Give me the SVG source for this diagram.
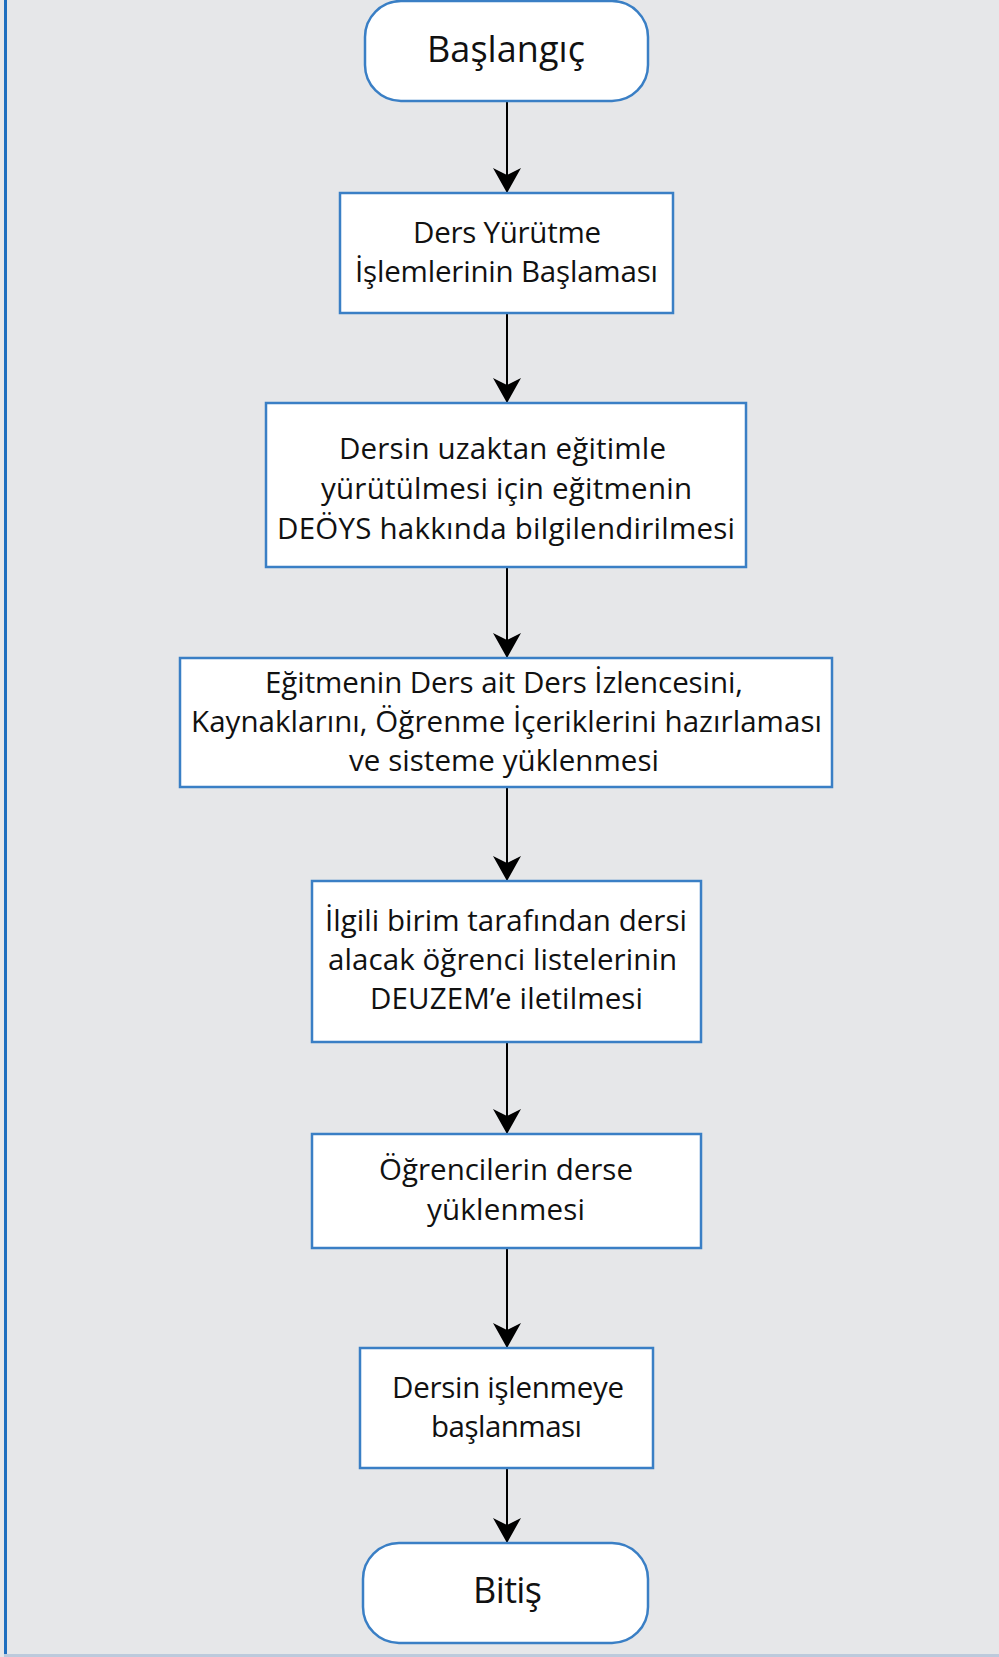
<svg xmlns="http://www.w3.org/2000/svg" width="999" height="1657" viewBox="0 0 999 1657">
<style>
.bg{fill:#e6e7e9}
.box{fill:#ffffff;stroke:#3a7fc5;stroke-width:2.5}
.t{font-family:"Open Sans","Noto Sans","Liberation Sans",sans-serif;font-size:29.5px;fill:#111111;text-anchor:middle}
.tb{font-family:"Open Sans","Noto Sans","Liberation Sans",sans-serif;font-size:36px;fill:#111111;text-anchor:middle}
.conn{stroke:#000000;stroke-width:2;fill:none;marker-end:url(#arr)}
</style>
<defs>
<marker id="arr" markerUnits="userSpaceOnUse" viewBox="0 0 25 28" refX="25" refY="14" markerWidth="25" markerHeight="28" orient="auto">
<path d="M0,0 L25,14 L0,28 L7,14 Z" fill="#000000"/>
</marker>
</defs>
<rect class="bg" x="0" y="0" width="999" height="1657"/>
<rect x="4" y="0" width="3" height="1657" fill="#1f6fbf"/>
<rect x="4" y="1654" width="995" height="3" fill="#bccadc"/>

<g id="connectors">
<line class="conn" x1="507" y1="101" x2="507" y2="193"/>
<line class="conn" x1="507" y1="313" x2="507" y2="403"/>
<line class="conn" x1="507" y1="567" x2="507" y2="658"/>
<line class="conn" x1="507" y1="787" x2="507" y2="881"/>
<line class="conn" x1="507" y1="1042" x2="507" y2="1134"/>
<line class="conn" x1="507" y1="1248" x2="507" y2="1348"/>
<line class="conn" x1="507" y1="1468" x2="507" y2="1543"/>
</g>

<g id="start">
<rect class="box" x="365" y="1" width="283" height="100" rx="36" ry="36"/>
<text class="tb" x="506" y="62" textLength="158">Başlangıç</text>
</g>

<g id="n1">
<rect class="box" x="340" y="193" width="333" height="120"/>
<text class="t" x="507" y="243" textLength="188">Ders Yürütme</text>
<text class="t" x="506.5" y="282" textLength="303">İşlemlerinin Başlaması</text>
</g>

<g id="n2">
<rect class="box" x="266" y="403" width="480" height="164"/>
<text class="t" x="502.5" y="459" textLength="327">Dersin uzaktan eğitimle</text>
<text class="t" x="506.5" y="499" textLength="371">yürütülmesi için eğitmenin</text>
<text class="t" x="506" y="539" textLength="458">DEÖYS hakkında bilgilendirilmesi</text>
</g>

<g id="n3">
<rect class="box" x="180" y="658" width="652" height="129"/>
<text class="t" x="504" y="693" textLength="478">Eğitmenin Ders ait Ders İzlencesini,</text>
<text class="t" x="506.5" y="732" textLength="631">Kaynaklarını, Öğrenme İçeriklerini hazırlaması</text>
<text class="t" x="504" y="771" textLength="310">ve sisteme yüklenmesi</text>
</g>

<g id="n4">
<rect class="box" x="312" y="881" width="389" height="161"/>
<text class="t" x="506" y="931" textLength="362">İlgili birim tarafından dersi</text>
<text class="t" x="502.5" y="970" textLength="349">alacak öğrenci listelerinin</text>
<text class="t" x="506.5" y="1009" textLength="273">DEUZEM’e iletilmesi</text>
</g>

<g id="n5">
<rect class="box" x="312" y="1134" width="389" height="114"/>
<text class="t" x="506" y="1180" textLength="254">Öğrencilerin derse</text>
<text class="t" x="506" y="1220" textLength="158">yüklenmesi</text>
</g>

<g id="n6">
<rect class="box" x="360" y="1348" width="293" height="120"/>
<text class="t" x="508" y="1398" textLength="232">Dersin işlenmeye</text>
<text class="t" x="506.5" y="1437" textLength="151">başlanması</text>
</g>

<g id="end">
<rect class="box" x="363" y="1543" width="285" height="100" rx="36" ry="36"/>
<text class="tb" x="507.5" y="1603" textLength="69">Bitiş</text>
</g>
</svg>
